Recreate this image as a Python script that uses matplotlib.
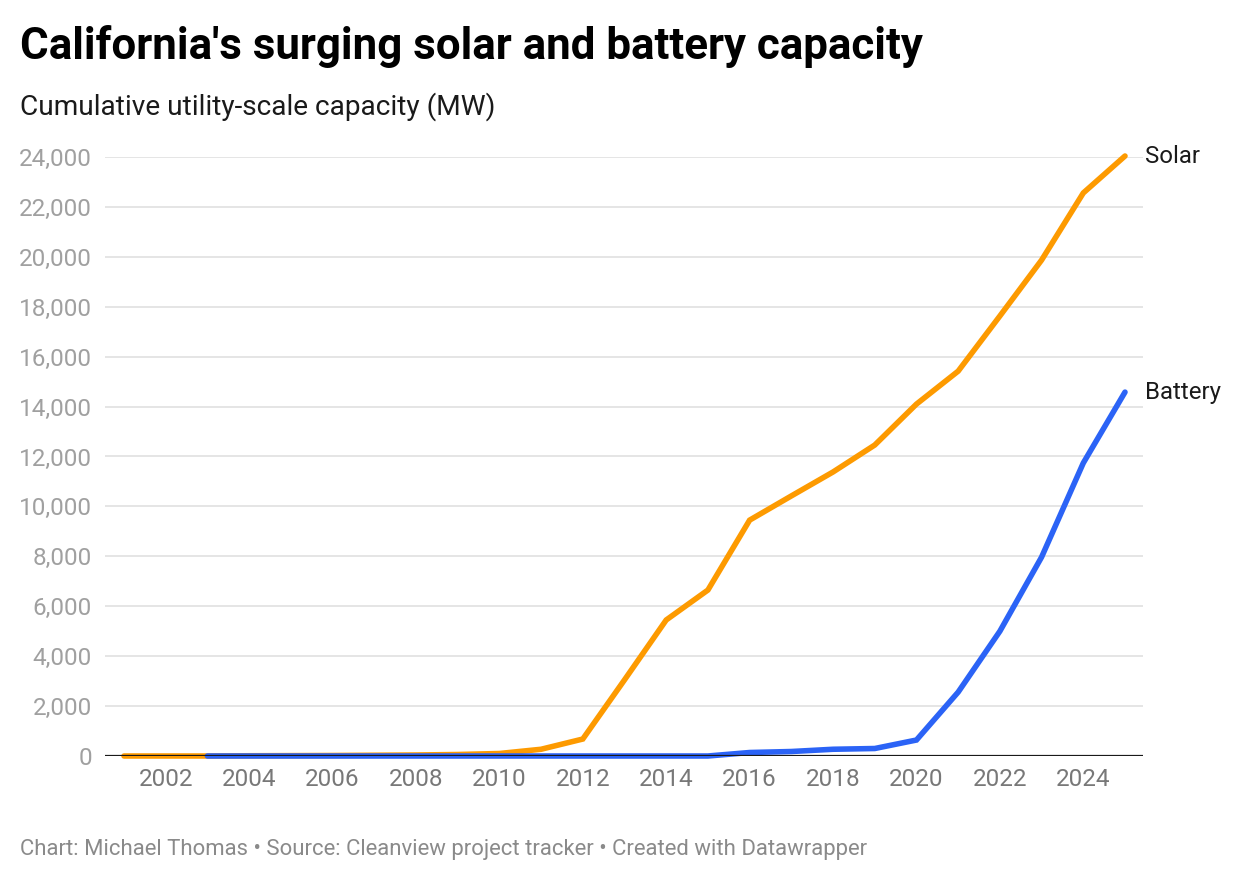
import matplotlib
matplotlib.use("Agg")
import matplotlib.pyplot as plt

plt.rcParams['font.family'] = ['Roboto', 'DejaVu Sans']

years = list(range(2001, 2026))
solar = [0, 0, 0, 10, 15, 20, 30, 40, 60, 100, 270, 680, 3050, 5450, 6650, 9450,
         10420, 11380, 12460, 14100, 15420, 17630, 19870, 22560, 24040]
battery_years = list(range(2003, 2026))
battery = [0, 0, 0, 0, 0, 0, 0, 0, 0, 0, 0, 0, 0, 140, 180, 270, 300, 640,
           2560, 5000, 7970, 11740, 14580]

yticks = list(range(0, 24001, 2000))
xticks = list(range(2002, 2025, 2))

title = "California's surging solar and battery capacity"
subtitle = "Cumulative utility-scale capacity (MW)"
footer = "Chart: Michael Thomas \u2022 Source: Cleanview project tracker \u2022 Created with Datawrapper"

ORANGE = '#fd9a00'
BLUE = '#2b63f6'

fig = plt.figure(figsize=(12.4, 8.84), dpi=100)
ax = fig.add_axes([105/1240, 1-756/884, (1143-105)/1240, (756-157)/884])

ax.set_xlim(2001 - 19/41.73, 2025 + 18/41.73)
ax.set_ylim(0, 24000)

for y in yticks[1:]:
    ax.axhline(y, color='#e3e3e3', lw=1.3, zorder=1)

ax.plot(years, solar, color=ORANGE, lw=4.0, solid_capstyle='round',
        solid_joinstyle='miter', zorder=3, clip_on=False)
ax.plot(battery_years, battery, color=BLUE, lw=4.0, solid_capstyle='round',
        solid_joinstyle='miter', zorder=4, clip_on=False)
ax.axhline(0, color='#1a1a1a', lw=1.6, zorder=5)

for s in ax.spines.values():
    s.set_visible(False)

ax.set_yticks(yticks)
ax.set_yticklabels([f"{v:,}" for v in yticks])
ax.set_xticks(xticks)
ax.set_xticklabels([str(x) for x in xticks])
ax.tick_params(axis='both', length=0, labelsize=17.5)
ax.tick_params(axis='y', pad=9.4, labelcolor='#a0a0a0')
ax.tick_params(axis='x', pad=9, labelcolor='#787878')

ax.text(2025 + 20/41.73, solar[-1], "Solar", fontsize=17.3, color='#1a1a1a',
        va='center', ha='left')
ax.text(2025 + 20/41.73, battery[-1], "Battery", fontsize=17.3, color='#1a1a1a',
        va='center', ha='left')

fig.text(20/1240, 1-47/884, title, fontsize=31.6, fontweight='bold', color='#000000',
         va='center', ha='left')
fig.text(20/1240, 1-107/884, subtitle, fontsize=20.2, color='#1a1a1a',
         va='center', ha='left')
fig.text(20/1240, 1-849/884, footer, fontsize=15.9, color='#8a8a8a',
         va='center', ha='left')

fig.savefig('out.png', dpi=100, facecolor='white')
